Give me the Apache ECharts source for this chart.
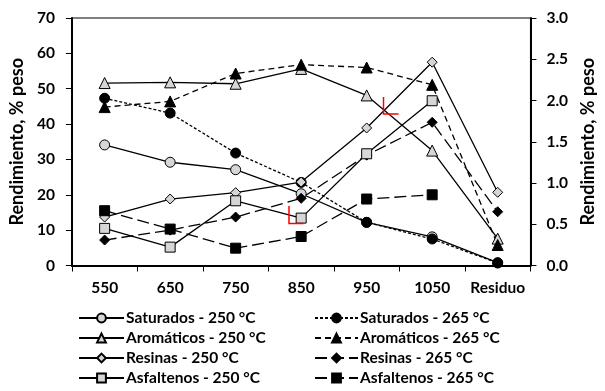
<!DOCTYPE html>
<html>
<head>
<meta charset="utf-8">
<script src="https://cdn.jsdelivr.net/npm/echarts@6/dist/echarts.min.js"></script>
<style>
  html, body { margin: 0; padding: 0; background: #fff; }
  #chart { width: 605px; height: 391px; }
</style>
</head>
<body>
<div id="chart"></div>
<script>
// Fracciones de destilación (°C) y residuo
const categories = ['550', '650', '750', '850', '950', '1050', 'Residuo'];

// Rendimiento, % peso (eje izquierdo)
const saturados250  = [34.1, 29.2, 27.1, 20.3, 12.2, 8.1, 0.8];
const saturados265  = [47.3, 43.1, 31.8, 23.5, 12.2, 7.5, 0.7];
const aromaticos250 = [51.6, 51.8, 51.4, 55.6, 48.1, 32.5, 7.6];
const aromaticos265 = [44.8, 46.4, 54.3, 56.8, 56.0, 51.1, 5.8];
const resinas250    = [13.7, 18.8, 20.6, 23.6, 38.9, 57.5, 20.7];
const resinas265    = [7.2, 10.0, 13.7, 19.0, 31.2, 40.5, 15.2];
const asfaltenos250 = [10.5, 5.2, 18.3, 13.4, 31.6, 46.6, null];
const asfaltenos265 = [15.5, 10.3, 4.9, 8.2, 18.8, 20.0, null];

// Marcas del eje derecho
const rightTicks = { min: 0, max: 3, interval: 0.5 };

const GRAY = '#d6d6d6';
const FONT = 'Lato';

function serie(name, data, symbol, size, filled, dash) {
  return {
    name: name,
    type: 'line',
    data: data,
    symbol: symbol,
    symbolSize: size,
    showSymbol: true,
    connectNulls: false,
    animation: false,
    itemStyle: {
      color: filled ? '#000' : GRAY,
      borderColor: '#000',
      borderWidth: 1
    },
    lineStyle: { color: '#000', width: 1.3, type: dash || 'solid' },
    emphasis: { disabled: true }
  };
}

const series = [
  serie('Saturados - 250 °C', saturados250, 'circle', 10, false),
  serie('Saturados - 265 °C', saturados265, 'circle', 10, true, [3, 2]),
  serie('Aromáticos - 250 °C', aromaticos250, 'triangle', 11, false),
  serie('Aromáticos - 265 °C', aromaticos265, 'triangle', 11, true, [6, 4]),
  serie('Resinas - 250 °C', resinas250, 'diamond', 10, false),
  serie('Resinas - 265 °C', resinas265, 'diamond', 10, true, [12, 5]),
  serie('Asfaltenos - 250 °C', asfaltenos250, 'rect', 10, false),
  serie('Asfaltenos - 265 °C', asfaltenos265, 'rect', 10, true, [12, 5])
];

const labelStyle = { color: '#000', fontFamily: FONT, fontWeight: 'bold', fontSize: 15.5 };
const nameStyle = { color: '#000', fontFamily: FONT, fontWeight: 'bold', fontSize: 18 };
const legendBase = {
  orient: 'vertical',
  top: 310,
  height: 81,
  padding: 0,
  itemWidth: 45,
  itemHeight: 11,
  itemGap: 4,
  selectedMode: false,
  textStyle: { color: '#000', fontFamily: FONT, fontWeight: 'bold', fontSize: 15.5, lineHeight: 16, padding: [0, 0, 0, -3] }
};

const chart = echarts.init(document.getElementById('chart'), null, { renderer: 'canvas' });
chart.setOption({
  animation: false,
  backgroundColor: '#fff',
  grid: {
    left: 68, right: 62.5, top: 18, bottom: 125.5,
    show: true, borderColor: '#000', borderWidth: 1, backgroundColor: 'transparent'
  },
  legend: [
    Object.assign({}, legendBase, {
      left: 78,
      data: ['Saturados - 250 °C', 'Aromáticos - 250 °C', 'Resinas - 250 °C', 'Asfaltenos - 250 °C']
    }),
    Object.assign({}, legendBase, {
      left: 314,
      itemWidth: 43,
      data: ['Saturados - 265 °C', 'Aromáticos - 265 °C', 'Resinas - 265 °C', 'Asfaltenos - 265 °C']
    })
  ],
  xAxis: {
    type: 'category',
    data: categories,
    boundaryGap: true,
    axisLine: { show: true, lineStyle: { color: '#000', width: 2 } },
    axisTick: { show: true, inside: false, length: 6, alignWithLabel: false, lineStyle: { color: '#000', width: 1 } },
    axisLabel: Object.assign({ margin: 14, interval: 0 }, labelStyle),
    splitLine: { show: false }
  },
  yAxis: [
    {
      type: 'value', min: 0, max: 70, interval: 10, position: 'left',
      name: 'Rendimiento, % peso', nameLocation: 'middle', nameRotate: 90, nameGap: 33,
      nameTextStyle: nameStyle,
      axisLine: { show: true, lineStyle: { color: '#000', width: 2 } },
      axisTick: { show: true, length: 6, lineStyle: { color: '#000', width: 1 } },
      axisLabel: Object.assign({ margin: 17 }, labelStyle),
      splitLine: { show: false }
    },
    {
      type: 'value', min: rightTicks.min, max: rightTicks.max, interval: rightTicks.interval, position: 'right',
      name: 'Rendimiento, % peso', nameLocation: 'middle', nameRotate: 90, nameGap: 46,
      nameTextStyle: nameStyle,
      axisLine: { show: true, lineStyle: { color: '#000', width: 2 } },
      axisTick: { show: true, length: 6, lineStyle: { color: '#000', width: 1 } },
      axisLabel: Object.assign({ margin: 16, formatter: v => v.toFixed(1) }, labelStyle),
      splitLine: { show: false }
    }
  ],
  graphic: [
    { type: 'polyline', shape: { points: [[383.5, 97], [383.5, 114], [398.5, 114]] }, style: { stroke: '#ff0000', lineWidth: 1.5, fill: null }, z: 100 },
    { type: 'polyline', shape: { points: [[289, 206], [289, 223.5], [303.5, 223.5]] }, style: { stroke: '#ff0000', lineWidth: 1.5, fill: null }, z: 100 }
  ],
  series: series
});
</script>
</body>
</html>
